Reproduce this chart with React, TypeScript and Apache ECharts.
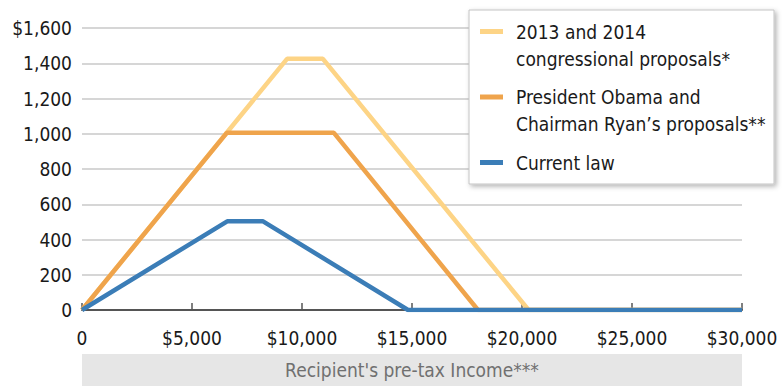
import React, { useEffect, useRef } from "react";
import * as echarts from "echarts";

const FONT = "'DejaVu Sans Condensed', 'Liberation Sans Narrow', 'Noto Sans', sans-serif";

const seriesNames = [
  "2013 and 2014\ncongressional proposals*",
  "President Obama and\nChairman Ryan\u2019s proposals**",
  "Current law",
];
const seriesColors = ["#FDD486", "#EFA44C", "#3B7DB7"];

const congressIncome = [0, 9320, 10950, 20300, 30000];
const congressCredit = [0, 1425, 1425, 0, 0];
const obamaIncome = [0, 6580, 11450, 18000, 30000];
const obamaCredit = [0, 1005, 1005, 0, 0];
const currentIncome = [0, 6600, 8230, 14820, 30000];
const currentCredit = [0, 503, 503, 0, 0];

const xTicks = [0, 5000, 10000, 15000, 20000, 25000, 30000];
const yTicks = [0, 200, 400, 600, 800, 1000, 1200, 1400, 1600];
const xAxisTitle = "Recipient's pre-tax Income***";

const pair = (xs: number[], ys: number[]) => xs.map((x, i) => [x, ys[i]]);

export default function App() {
  const ref = useRef<HTMLDivElement>(null);
  useEffect(() => {
    if (!ref.current) return;
    const chart = echarts.init(ref.current, undefined, { renderer: "svg" });
    const datasets = [
      pair(congressIncome, congressCredit),
      pair(obamaIncome, obamaCredit),
      pair(currentIncome, currentCredit),
    ];
    const rich: any = {
      t: { fontFamily: FONT, fontSize: 19, color: "#1a1a1a", lineHeight: 27, width: 250 },
      pad: { width: 36, height: 27 },
      g: { width: 13, height: 5 },
    };
    seriesColors.forEach((c, i) => {
      rich["sw" + i] = { width: 23, height: 5, backgroundColor: c };
    });
    chart.setOption({
      animation: false,
      textStyle: { fontFamily: FONT },
      grid: { left: 82, right: 42, top: 28, bottom: 76, containLabel: false, outerBoundsMode: "none" },
      legend: {
        orient: "vertical",
        left: 469,
        top: 10,
        itemWidth: 0,
        itemHeight: 0,
        itemGap: 19.5,
        padding: [12, 8, 12, 6],
        backgroundColor: "#ffffff",
        borderColor: "#c4c4c4",
        borderWidth: 1,
        shadowBlur: 5,
        shadowColor: "rgba(0,0,0,0.3)",
        shadowOffsetX: 2,
        shadowOffsetY: 2,
        selectedMode: false,
        data: seriesNames.map((n) => ({ name: n, icon: "rect" })),
        formatter: (name: string) => {
          const idx = seriesNames.indexOf(name);
          const lines = name.split("\n");
          return lines
            .map((l, j) =>
              j === 0 ? `{sw${idx}|}{g|}{t|${l}}` : `{pad|}{t|${l}}`
            )
            .join("\n");
        },
        textStyle: { rich, padding: 0 },
      },
      xAxis: {
        type: "value",
        min: 0,
        max: 30000,
        interval: 5000,
        name: `{bar|${xAxisTitle}}`,
        nameLocation: "middle",
        nameGap: 44,
        nameTextStyle: {
          verticalAlign: "top",
          rich: {
            bar: {
              fontFamily: FONT,
              fontSize: 19,
              color: "#707070",
              backgroundColor: "#e6e6e6",
              width: 660,
              height: 32,
              lineHeight: 32,
              align: "center",
            },
          },
        },
        axisLine: { show: true, lineStyle: { color: "#555555", width: 2 } },
        axisTick: { show: true, inside: true, length: 7, lineStyle: { color: "#555555", width: 1.5 } },
        splitLine: { show: false },
        axisLabel: {
          fontFamily: FONT,
          fontSize: 19,
          color: "#1a1a1a",
          margin: 18,
          formatter: (v: number) =>
            xTicks.includes(v) && v !== 0 ? "$" + v.toLocaleString("en-US") : "0",
        },
      },
      yAxis: {
        type: "value",
        min: 0,
        max: 1600,
        interval: 200,
        axisLine: { show: false },
        axisTick: { show: false },
        splitLine: { show: true, lineStyle: { color: "#c8c8c8", width: 1.5 } },
        axisLabel: {
          fontFamily: FONT,
          fontSize: 19,
          color: "#1a1a1a",
          margin: 10,
          formatter: (v: number) =>
            yTicks.includes(v)
              ? (v === 1600 ? "$" : "") + v.toLocaleString("en-US")
              : "",
        },
      },
      series: seriesNames.map((n, i) => ({
        name: n,
        type: "line",
        data: datasets[i],
        showSymbol: false,
        symbol: "none",
        color: seriesColors[i],
        lineStyle: { color: seriesColors[i], width: 4.5 },
        z: 2 + i,
      })),
    });
    return () => chart.dispose();
  }, []);
  return <div ref={ref} style={{ width: 784, height: 386, position: "absolute", left: 0, top: 0 }} />;
}
